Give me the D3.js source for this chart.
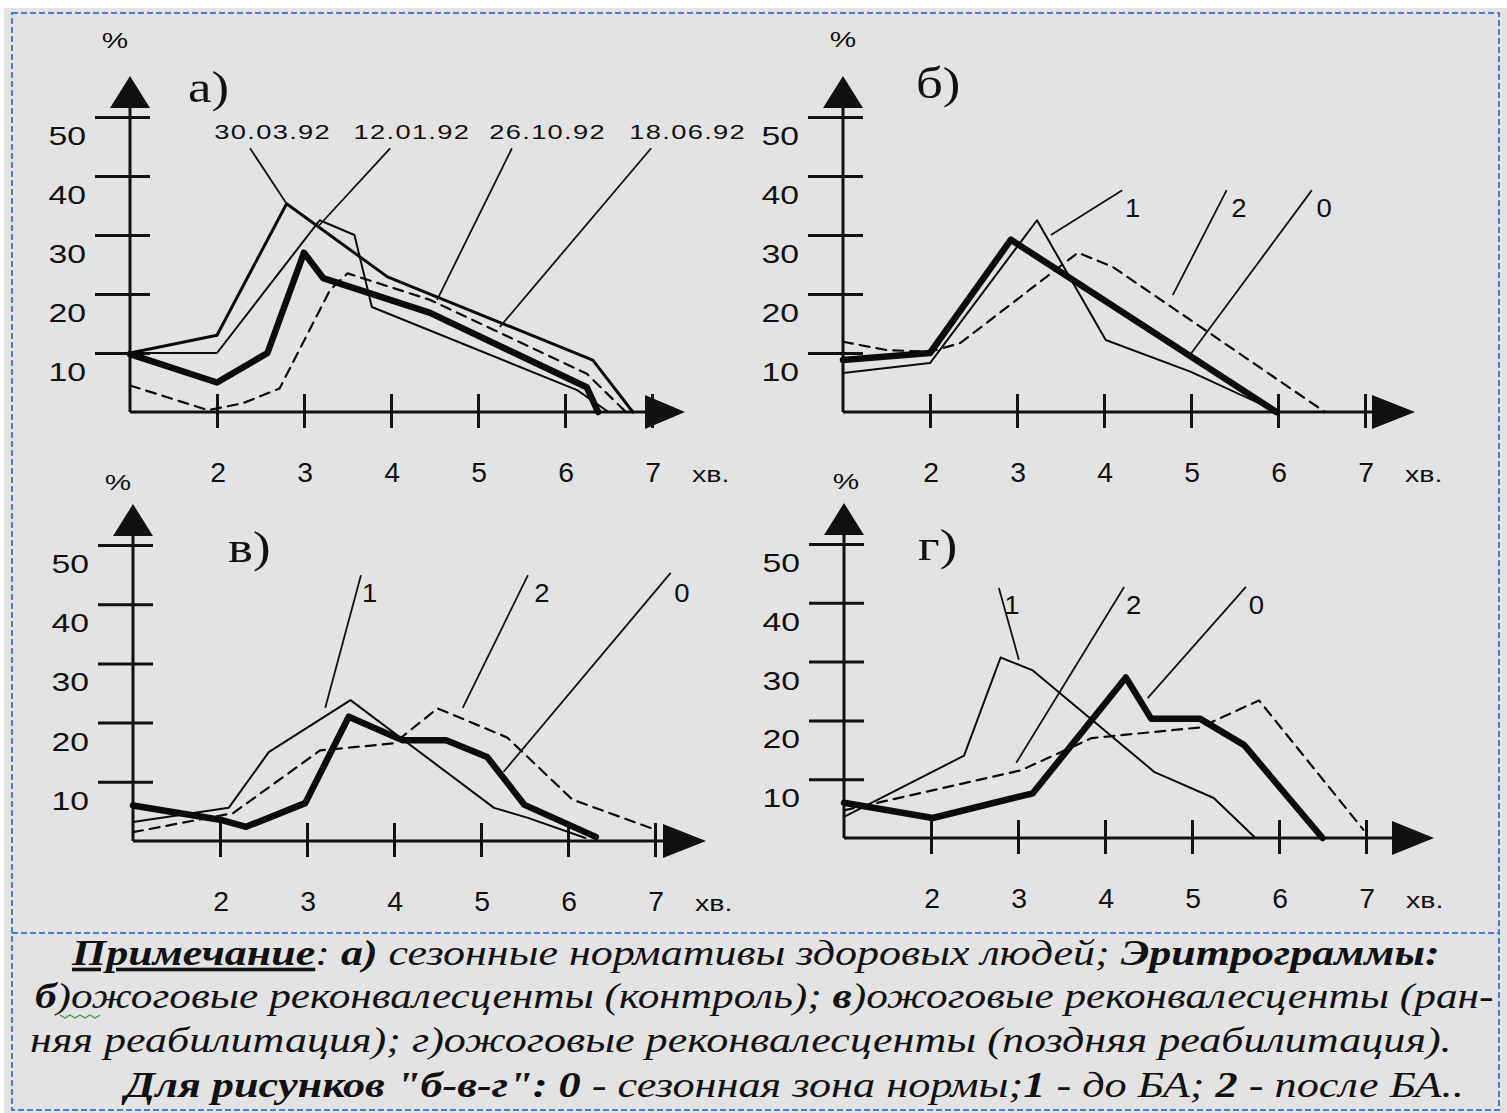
<!DOCTYPE html>
<html>
<head>
<meta charset="utf-8">
<script src="https://cdn.jsdelivr.net/npm/d3@7"></script>
<style>
  html, body { margin: 0; padding: 0; background: #fff; }
  svg { display: block; }
</style>
</head>
<body>
<svg id="chart" width="1507" height="1113"></svg>
<script>
// ---- data -----------------------------------------------------------
var xTicks = [2, 3, 4, 5, 6, 7];
var yTicks = [10, 20, 30, 40, 50];
var xUnit = "хв.";

// а) seasonal norms, 4 dates
var aDates  = ["30.03.92", "12.01.92", "26.10.92", "18.06.92"];
var aMedium = [[1,10],[2,13],[2.8,35.3],[3.96,22.9],[6.32,8.8],[6.78,0]];
var aThin   = [[1,10],[2,10],[3.18,32.5],[3.58,30],[3.78,17.8],[6.14,3.7],[6.5,0]];
var aThick  = [[1,9.8],[2,5],[2.58,10],[3.0,27],[3.22,22.7],[4.45,16.8],[6.25,4.2],[6.38,0]];
var aDashed = [[1,4.5],[1.9,0.3],[2.3,1.5],[2.72,4],[3.3,20.7],[3.5,23.5],[4.45,19],[6.25,6.5],[6.7,0]];

// б, в, г : 1 - до БА, 2 - после БА, 0 - сезонная норма
var curveNames = ["1", "2", "0"];
var b1 = [[1,6.6],[2,8.3],[3.23,32.5],[4.02,12.2],[5,6.8],[6,0]];
var b2 = [[1,11.9],[1.5,10.5],[2,10.2],[2.35,11.7],[3.7,27],[4.1,24.6],[6.54,0]];
var b0 = [[1,8.8],[2,10],[2.93,29.2],[5.98,0]];

var v1 = [[1,3.2],[2.1,5.6],[2.56,15],[3.5,23.8],[5.15,5.6],[5.54,3.9],[6.2,0.5]];
var v2 = [[1,1.5],[2.15,4.7],[3.15,15.3],[4,16.5],[4.5,22.4],[5.3,17.5],[6.05,7],[6.95,2.2]];
var v0 = [[1,6],[2,3.6],[2.3,2.4],[2.98,6.4],[3.48,21],[4.1,17],[4.6,17],[5.07,14.2],[5.5,6.1],[6.32,0.7]];

var g1 = [[1,3.6],[2.38,14],[2.8,30.7],[3.17,28.5],[4.57,11.2],[5.25,6.8],[5.73,0]];
var g2 = [[1,4.7],[3.03,11.5],[3.85,17],[5.09,18.8],[5.77,23.4],[6.97,1.4]];
var g0 = [[1,6],[2.02,3.4],[3.17,7.6],[4.24,27.3],[4.53,20.3],[5.09,20.3],[5.6,15.8],[6.5,0]];

// note under the figure: [text, flags]  b = bold, u = underline
var noteLines = [
  [["Примечание", "bu"], [": ", ""], ["а)", "b"], [" сезонные нормативы здоровых людей; ", ""], ["Эритрограммы:", "b"]],
  [["б", "b"], [")ожоговые реконвалесценты (контроль); ", ""], ["в", "b"], [")ожоговые реконвалесценты (ран-", ""]],
  [["няя реабилитация); г)ожоговые реконвалесценты (поздняя реабилитация).", ""]],
  [["Для рисунков \"б-в-г\": 0", "b"], [" - сезонная зона нормы;", ""], ["1", "b"], [" - до БА; ", ""], ["2", "b"], [" - после БА..", ""]]
];

// ---- layout ---------------------------------------------------------
var W = 1507, H = 1113, UNIT = 87;
var SANS = "'Liberation Sans', Arial, sans-serif";
var SERIF = "'Liberation Serif', 'Times New Roman', serif";

var lineStyle = {
  thick:  { w: 6.5, dash: null },
  medium: { w: 3,   dash: null },
  thin:   { w: 2,   dash: null },
  dashed: { w: 2.2, dash: "10,7" }
};

var panels = [
  { title: "а)", ox: 130, oy: 412, top: 117, titleAt: [188, 102], pctAt: [115, 48], arrow: [-7, 33],
    series: [[aDashed, "dashed"], [aThin, "thin"], [aMedium, "medium"], [aThick, "thick"]],
    names: aDates, nameSize: 21,
    leaders: [ { at: [2.64,47.5], from: [2.38,44.7], to: [2.8,35.3] },
               { at: [4.24,47.5], from: [3.99,44.7], to: [3.16,31.4] },
               { at: [5.8,47.5],  from: [5.39,44.7], to: [4.53,19] },
               { at: [7.41,47.5], from: [6.99,44.7], to: [5.25,14.4] } ] },
  { title: "б)", ox: 843, oy: 412, top: 117, titleAt: [916, 98], pctAt: [843, 47], arrow: [7, 50],
    series: [[b2, "dashed"], [b1, "thin"], [b0, "thick"]],
    names: curveNames, nameSize: 25,
    leaders: [ { at: [4.33,34.6], from: [4.21,37.6], to: [3.39,30] },
               { at: [5.55,34.6], from: [5.41,37.6], to: [4.79,19.8] },
               { at: [6.53,34.6], from: [6.39,37.6], to: [4.99,9.7] } ] },
  { title: "в)", ox: 133, oy: 841, top: 545, titleAt: [228, 562], pctAt: [118, 490], arrow: [8, 51],
    series: [[v2, "dashed"], [v1, "thin"], [v0, "thick"]],
    names: curveNames, nameSize: 25,
    leaders: [ { at: [3.72,41.9], from: [3.62,44.9], to: [3.21,22.5] },
               { at: [5.7,41.9],  from: [5.54,44.9], to: [4.79,22.5] },
               { at: [7.31,41.9], from: [7.18,45.3], to: [5.26,11.7] } ] },
  { title: "г)", ox: 844, oy: 838, top: 544, titleAt: [918, 560], pctAt: [846, 489], arrow: [26, 68],
    series: [[g2, "dashed"], [g1, "thin"], [g0, "thick"]],
    names: curveNames, nameSize: 25,
    leaders: [ { at: [2.93,39.6], from: [2.78,42.5], to: [3.01,30.3] },
               { at: [4.33,39.6], from: [4.22,42.7], to: [2.98,12.8] },
               { at: [5.74,39.6], from: [5.62,42.7], to: [4.49,23.8] } ] }
];

var noteLayout = [
  { x: 72,  x2: 1440, y: 965 },
  { x: 35,  x2: 1494, y: 1008 },
  { x: 30,  x2: 1452, y: 1052 },
  { x: 125, x2: 1464, y: 1097 }
];

// ---- drawing --------------------------------------------------------
var svg = d3.select("#chart");
svg.append("rect").attr("width", W).attr("height", H).attr("fill", "#fff");
svg.append("rect").attr("x", 4).attr("y", 8).attr("width", W - 4).attr("height", H - 8).attr("fill", "#e3e3e3");

// text that is stretched sideways like the scanned figure
function wideText(sel, x, y, str, size, anchor, sx) {
  return sel.append("text")
    .attr("transform", "translate(" + x + "," + y + ") scale(" + (sx || 1.3) + ",1)")
    .attr("text-anchor", anchor || "middle")
    .style("font-family", SANS).style("font-size", size + "px")
    .attr("fill", "#111").text(str);
}

panels.forEach(function(p) {
  var g = svg.append("g");
  var x = d3.scaleLinear().domain([1, 7]).range([p.ox, p.ox + 6 * UNIT]);
  var y = d3.scaleLinear().domain([0, 50]).range([p.oy, p.top]);

  // tick marks through d3 axes, crossing the axis line
  g.append("g").attr("transform", "translate(0," + p.oy + ")")
    .call(d3.axisBottom(x).tickValues(xTicks).tickSize(16).tickFormat(""))
    .call(function(s) { s.select(".domain").remove(); })
    .call(function(s) { s.selectAll(".tick line").attr("y1", -18).attr("stroke", "#111").attr("stroke-width", 3); });

  g.append("g").attr("transform", "translate(" + p.ox + ",0)")
    .call(d3.axisLeft(y).tickValues(yTicks).tickSize(35).tickFormat(""))
    .call(function(s) { s.select(".domain").remove(); })
    .call(function(s) { s.selectAll(".tick line").attr("x1", 20).attr("stroke", "#111").attr("stroke-width", 3); });

  // axis lines + arrow heads
  var yTop = y(50) - 9, yTip = y(50) - 41;
  var xBase = x(7) + p.arrow[0], xTip = x(7) + p.arrow[1];
  g.append("path")
    .attr("d", "M" + p.ox + "," + p.oy + "V" + yTop + "M" + p.ox + "," + p.oy + "H" + xBase)
    .attr("stroke", "#111").attr("stroke-width", 3).attr("fill", "none");
  g.append("path")
    .attr("d", "M" + (p.ox - 20) + "," + yTop + "L" + p.ox + "," + yTip + "L" + (p.ox + 20) + "," + yTop + "Z")
    .attr("fill", "#111");
  g.append("path")
    .attr("d", "M" + xBase + "," + (p.oy - 17) + "L" + xTip + "," + p.oy + "L" + xBase + "," + (p.oy + 17) + "Z")
    .attr("fill", "#111");

  // tick labels
  xTicks.forEach(function(t) { wideText(g, x(t) + 1, p.oy + 70, String(t), 27, "middle", 1.05); });
  wideText(g, x(7) + 40, p.oy + 70, xUnit, 22, "start", 1.3);
  yTicks.forEach(function(t) { wideText(g, p.ox - 44, y(t) + 28, String(t), 25, "end", 1.35); });
  wideText(g, p.pctAt[0], p.pctAt[1], "%", 22, "middle", 1.35);

  // panel letter
  g.append("text")
    .attr("transform", "translate(" + p.titleAt[0] + "," + p.titleAt[1] + ") scale(1.2,1)")
    .style("font-family", SERIF).style("font-size", "44px").attr("fill", "#111").text(p.title);

  // curves
  var line = d3.line().x(function(d) { return x(d[0]); }).y(function(d) { return y(d[1]); });
  p.series.forEach(function(s) {
    var st = lineStyle[s[1]];
    g.append("path").attr("d", line(s[0]))
      .attr("fill", "none").attr("stroke", "#0b0b0b")
      .attr("stroke-width", st.w).attr("stroke-dasharray", st.dash)
      .attr("stroke-linejoin", "round").attr("stroke-linecap", "round");
  });

  // leader lines and their labels
  p.leaders.forEach(function(l, i) {
    g.append("line")
      .attr("x1", x(l.from[0])).attr("y1", y(l.from[1]))
      .attr("x2", x(l.to[0])).attr("y2", y(l.to[1]))
      .attr("stroke", "#111").attr("stroke-width", 1.8);
    wideText(g, x(l.at[0]), y(l.at[1]) + p.nameSize * 0.36, p.names[i], p.nameSize, "middle", p.names[i].length > 2 ? 1.3 : 1.1)
      .style("letter-spacing", p.names[i].length > 2 ? "1px" : null);
  });
});

// dashed frame
var frame = svg.append("g").attr("fill", "none").attr("stroke", "#4b80d4")
  .attr("stroke-width", 2).attr("stroke-dasharray", "6,3");
frame.append("rect").attr("x", 12).attr("y", 13).attr("width", 1487).attr("height", 1097);
frame.append("line").attr("x1", 12).attr("x2", 1499).attr("y1", 933).attr("y2", 933);

// note text, each line fitted to its width
noteLines.forEach(function(parts, i) {
  var lay = noteLayout[i];
  var gl = svg.append("g");
  var t = gl.append("text")
    .style("font-family", SERIF).style("font-size", "36px").style("font-style", "italic")
    .attr("fill", "#111");
  parts.forEach(function(pt) {
    var ts = t.append("tspan").text(pt[0]);
    if (pt[1].indexOf("b") >= 0) ts.style("font-weight", "bold");
    if (pt[1].indexOf("u") >= 0) ts.style("text-decoration", "underline");
  });
  var w = t.node().getComputedTextLength();
  gl.attr("transform", "translate(" + lay.x + "," + lay.y + ") scale(" + ((lay.x2 - lay.x) / w) + ",1)");
});

// spell-check squiggle under "б"
svg.append("path")
  .attr("d", d3.range(0, 9).map(function(k) { return (k ? "L" : "M") + (60 + k * 5) + "," + (1015 + (k % 2) * 3); }).join(""))
  .attr("fill", "none").attr("stroke", "#3c9a3c").attr("stroke-width", 1.2);
</script>
</body>
</html>
